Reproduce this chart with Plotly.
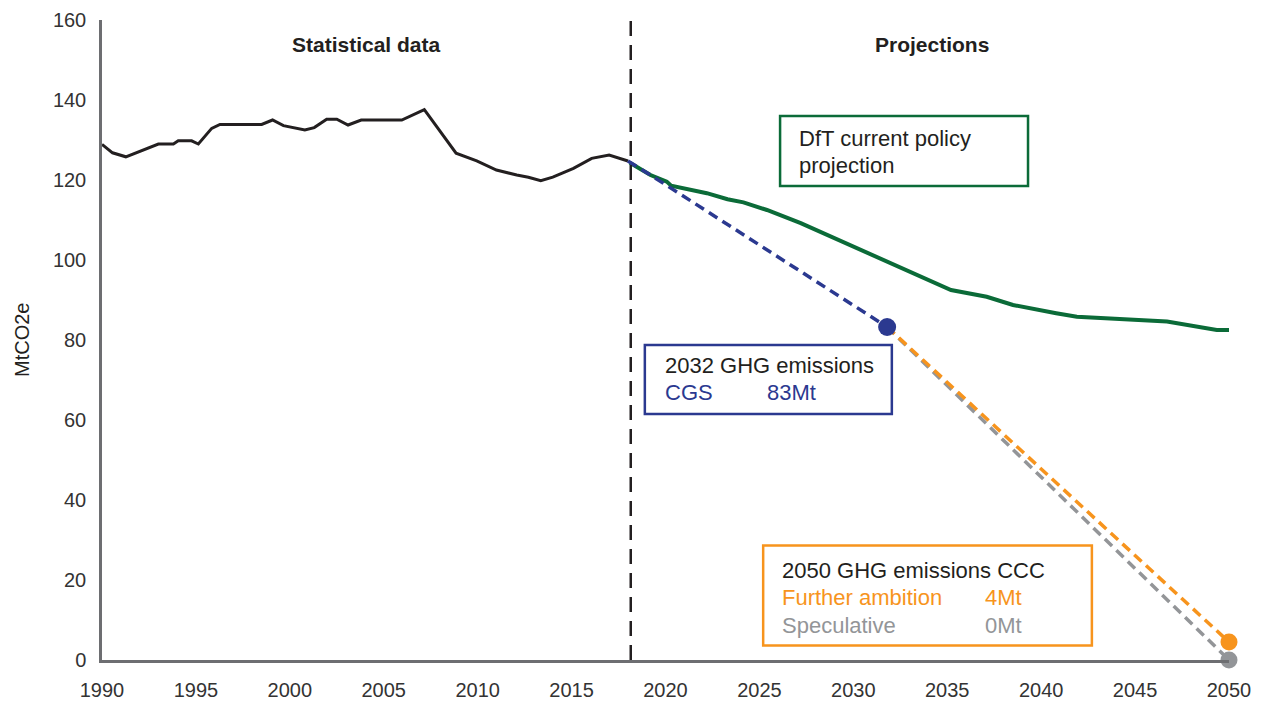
import plotly.graph_objects as go

# ---- data ----
hist_years = [1990.0, 1990.56, 1991.27, 1993.0, 1993.8, 1994.06, 1994.77, 1995.13, 1995.84,
              1996.28, 1998.5, 1999.08, 1999.66, 2000.8, 2001.3, 2001.96, 2002.5, 2003.1,
              2003.8, 2005.96, 2007.16, 2008.85, 2009.95, 2011.0, 2012.08, 2012.7, 2013.36,
              2014.0, 2015.1, 2016.07, 2017.0, 2018.0]
hist_values = [128.9, 126.8, 125.8, 129.0, 129.0, 129.8, 129.8, 129.0, 132.9,
               133.9, 133.9, 135.0, 133.6, 132.5, 133.1, 135.2, 135.2, 133.75,
               135.0, 135.0, 137.6, 126.7, 124.8, 122.5, 121.25, 120.7, 119.8,
               120.7, 122.9, 125.4, 126.25, 124.75]

dft_years = [2018.1, 2019.2, 2020.07, 2020.3, 2022.2, 2023.3, 2024.15, 2025.4, 2027.2,
             2030.0, 2032.5, 2034.6, 2035.2, 2037.1, 2038.5, 2040.8, 2041.9, 2046.7,
             2047.2, 2049.35, 2050.2]
dft_values = [124.3, 121.25, 119.6, 118.6, 116.7, 115.2, 114.4, 112.5, 109.2,
              103.3, 98.3, 93.75, 92.5, 90.8, 88.75, 86.7, 85.8, 84.6,
              84.2, 82.5, 82.5]

cgs_years = [2018.0, 2019.2, 2031.8]
cgs_values = [124.75, 121.25, 83.25]

further_years = [2031.8, 2050.0]
further_values = [83.25, 4.5]

spec_years = [2031.8, 2050.0]
spec_values = [83.25, 0.0]

x_ticks = [1990, 1995, 2000, 2005, 2010, 2015, 2020, 2025, 2030, 2035, 2040, 2045, 2050]
y_ticks = [0, 20, 40, 60, 80, 100, 120, 140, 160]
divider_year = 2018.15

# ---- styles ----
BLACK = "#231f20"
GREEN = "#0b6b38"
BLUE = "#2b3990"
ORANGE = "#f7941d"
GREY = "#939598"
AXIS = "#6d6e71"
FONT = "Liberation Sans, Arial, sans-serif"

fig = go.Figure()

fig.add_trace(go.Scatter(x=hist_years, y=hist_values, mode="lines",
                         line=dict(color=BLACK, width=3), cliponaxis=False))
fig.add_trace(go.Scatter(x=dft_years, y=dft_values, mode="lines",
                         line=dict(color=GREEN, width=4), cliponaxis=False))
fig.add_trace(go.Scatter(x=spec_years, y=spec_values, mode="lines",
                         line=dict(color=GREY, width=3.5, dash="10px,6px"), cliponaxis=False))
fig.add_trace(go.Scatter(x=further_years, y=further_values, mode="lines",
                         line=dict(color=ORANGE, width=3.5, dash="10px,6px"), cliponaxis=False))
fig.add_trace(go.Scatter(x=cgs_years, y=cgs_values, mode="lines",
                         line=dict(color=BLUE, width=3.5, dash="10px,6px"), cliponaxis=False))
# end-point markers
fig.add_trace(go.Scatter(x=[spec_years[-1]], y=[spec_values[-1]], mode="markers",
                         marker=dict(color=GREY, size=17), cliponaxis=False))
fig.add_trace(go.Scatter(x=[further_years[-1]], y=[further_values[-1]], mode="markers",
                         marker=dict(color=ORANGE, size=17), cliponaxis=False))
fig.add_trace(go.Scatter(x=[cgs_years[-1]], y=[cgs_values[-1]], mode="markers",
                         marker=dict(color=BLUE, size=18), cliponaxis=False))

# divider between statistics and projections
fig.add_shape(type="line", x0=divider_year, x1=divider_year, y0=0, y1=160.5,
              xref="x", yref="y", line=dict(color=BLACK, width=2.5, dash="15px,9px"))

# boxes
fig.add_shape(type="rect", x0=2026.1, x1=2039.3, y0=118.5, y1=136, xref="x", yref="y",
              line=dict(color=GREEN, width=2.5), fillcolor="rgba(255,255,255,0)")
fig.add_shape(type="rect", x0=2018.9, x1=2032.05, y0=61.5, y1=78.75, xref="x", yref="y",
              line=dict(color=BLUE, width=2.5), fillcolor="rgba(255,255,255,0)")
fig.add_shape(type="rect", x0=2025.2, x1=2042.7, y0=3.6, y1=28.6, xref="x", yref="y",
              line=dict(color=ORANGE, width=2.5), fillcolor="rgba(255,255,255,0)")

def txt(x, y, s, color=BLACK, size=22, anchor="left", bold=False):
    fig.add_annotation(x=x, y=y, xref="x", yref="y", text=(f"<b>{s}</b>" if bold else s),
                       showarrow=False, xanchor=anchor, yanchor="middle",
                       font=dict(family=FONT, size=size, color=color))

# headers
txt(2004.1, 154, "Statistical data", size=21, anchor="center", bold=True)
txt(2034.2, 154, "Projections", size=21, anchor="center", bold=True)

# green box text
txt(2027.0, 130.5, "DfT current policy")
txt(2027.0, 123.75, "projection")

# blue box text
txt(2019.85, 73.75, "2032 GHG emissions")
txt(2019.85, 66.8, "CGS", color=BLUE)
txt(2025.3, 66.8, "83Mt", color=BLUE)

# orange box text
txt(2026.1, 22.5, "2050 GHG emissions CCC")
txt(2026.1, 15.7, "Further ambition", color=ORANGE)
txt(2036.9, 15.7, "4Mt", color=ORANGE)
txt(2026.1, 8.75, "Speculative", color=GREY)
txt(2036.9, 8.75, "0Mt", color=GREY)

# y-axis title
fig.add_annotation(x=-0.071, y=0.5, xref="paper", yref="paper", text="MtCO2e",
                   textangle=-90, showarrow=False, xanchor="center", yanchor="middle",
                   font=dict(family=FONT, size=20, color=BLACK))

fig.update_layout(
    width=1279, height=707,
    margin=dict(l=102, r=50, t=20, b=47, autoexpand=False),
    paper_bgcolor="white", plot_bgcolor="white",
    showlegend=False,
    font=dict(family=FONT, color=BLACK),
    xaxis=dict(range=[1990, 2050], tickvals=x_ticks, showgrid=False, zeroline=False,
               showline=True, linecolor=AXIS, linewidth=3, ticks="", automargin=False,
               ticklabelstandoff=10,
               tickfont=dict(family=FONT, size=20, color="#333333")),
    yaxis=dict(range=[0, 160], tickvals=y_ticks, showgrid=False, zeroline=False,
               showline=True, linecolor=AXIS, linewidth=2.5, ticks="", automargin=False,
               ticklabelstandoff=9,
               tickfont=dict(family=FONT, size=20, color="#333333")),
)

# remove the default 8px page margin so the 1279x707 figure fills the window exactly
fig.write_html("out.html", config={"displayModeBar": False},
               post_script="document.body.style.margin='0';document.body.style.overflow='hidden';")
